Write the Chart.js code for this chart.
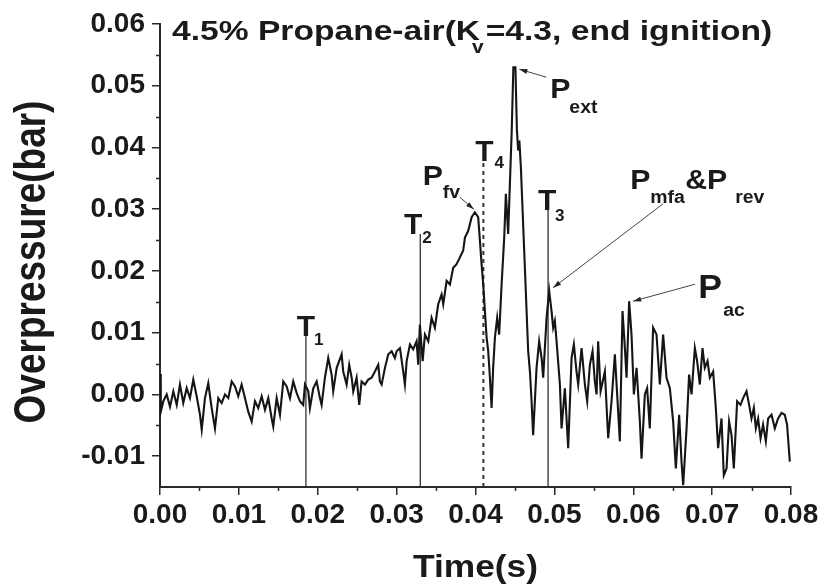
<!DOCTYPE html>
<html>
<head>
<meta charset="utf-8">
<title>Propane-air overpressure</title>
<script src="https://cdn.jsdelivr.net/npm/chart.js@4.4.1/dist/chart.umd.min.js"></script>
<style>
  html, body { margin: 0; padding: 0; background: #fff; }
</style>
</head>
<body>
<canvas id="chart" width="820" height="588"></canvas>
<script>
// Pressure trace: time (s) and overpressure (bar)
const timeS = [
  0, 0.0001, 0.00042, 0.00085, 0.00127, 0.00169, 0.00212, 0.00253, 0.00295, 0.00338,
  0.0038, 0.00422, 0.00465, 0.00507, 0.00529, 0.0057, 0.00612, 0.00655, 0.00697, 0.00739,
  0.00782, 0.00824, 0.00866, 0.00909, 0.00951, 0.00992, 0.01035, 0.01077, 0.01119, 0.01162,
  0.01204, 0.01246, 0.01289, 0.01331, 0.01373, 0.01416, 0.01436, 0.01479, 0.01521, 0.01563,
  0.01606, 0.01648, 0.01689, 0.01733, 0.01774, 0.01816, 0.01838, 0.0188, 0.01901, 0.01943,
  0.01986, 0.02028, 0.02049, 0.02091, 0.02133, 0.02176, 0.02196, 0.0224, 0.02303, 0.02323,
  0.02366, 0.02399, 0.0243, 0.0245, 0.02493, 0.02526, 0.02556, 0.02598, 0.0264, 0.02683,
  0.02725, 0.02767, 0.02788, 0.0281, 0.02852, 0.02894, 0.02937, 0.02978, 0.03, 0.03042,
  0.03084, 0.03105, 0.03127, 0.03169, 0.0321, 0.03253, 0.03274, 0.03295, 0.0333, 0.03359,
  0.03401, 0.03443, 0.03485, 0.03527, 0.0357, 0.03591, 0.03634, 0.03676, 0.03717, 0.0376,
  0.03802, 0.03844, 0.03866, 0.03908, 0.03951, 0.03992, 0.04034, 0.04056, 0.04077, 0.04098,
  0.04119, 0.04141, 0.04161, 0.04183, 0.04204, 0.04224, 0.04246, 0.04275, 0.043, 0.04331,
  0.04364, 0.04385, 0.04414, 0.04458, 0.0448, 0.04506, 0.04525, 0.04541, 0.04556, 0.04575,
  0.04668, 0.0469, 0.04711, 0.04731, 0.04774, 0.04807, 0.04838, 0.04858, 0.04901, 0.04934,
  0.04964, 0.04985, 0.05006, 0.05028, 0.0507, 0.05091, 0.05133, 0.05175, 0.05218, 0.05247,
  0.05281, 0.05302, 0.05345, 0.05387, 0.05416, 0.0545, 0.05484, 0.05513, 0.05535, 0.05555,
  0.05586, 0.0564, 0.05682, 0.05725, 0.05767, 0.05796, 0.0583, 0.05864, 0.05894, 0.05915,
  0.05948, 0.05978, 0.06008, 0.06042, 0.06084, 0.06105, 0.06147, 0.06176, 0.0621, 0.06252,
  0.06295, 0.06337, 0.06379, 0.06422, 0.06464, 0.06506, 0.0654, 0.06582, 0.06612, 0.06633,
  0.06676, 0.06708, 0.06739, 0.06781, 0.0681, 0.06844, 0.06878, 0.06907, 0.06942, 0.06971,
  0.07013, 0.07047, 0.07076, 0.07119, 0.07148, 0.07183, 0.07215, 0.07246, 0.07275, 0.07317,
  0.0736, 0.07393, 0.07436, 0.07469, 0.07499, 0.07529, 0.07554, 0.07583, 0.07614, 0.07646,
  0.07681, 0.0771, 0.07753, 0.07795, 0.07836, 0.0788, 0.07921, 0.0795, 0.07985
];
const overpressure = [
  0.0033, -0.0028, -0.0011, 0.0000, -0.0020, 0.0005, -0.0017, 0.0016, -0.0014, 0.0010,
  -0.0006, 0.0024, -0.0003, -0.0033, -0.0057, -0.0006, 0.0018, -0.0022, -0.0055, -0.0006,
  -0.0014, 0.0000, -0.0006, 0.0021, 0.0013, -0.0003, 0.0016, -0.0006, -0.0028, -0.0044,
  -0.0011, -0.0022, -0.0003, -0.0025, -0.0006, -0.0039, -0.0052, -0.0006, -0.0033, 0.0021,
  0.0013, -0.0006, 0.0021, 0.0002, -0.0011, -0.0017, 0.0016, 0.0005, -0.0022, 0.0010,
  0.0021, -0.0006, -0.0017, 0.0027, 0.0059, 0.0032, 0.0005, 0.0043, 0.0065, 0.0037,
  0.0016, 0.0048, 0.0027, 0.0005, 0.0027, -0.0017, 0.0021, 0.0016, 0.0024, 0.0027,
  0.0037, 0.0048, 0.0021, 0.0016, 0.0043, 0.0065, 0.0070, 0.0059, 0.0070, 0.0075,
  0.0037, 0.0016, 0.0054, 0.0081, 0.0073, 0.0086, 0.0048, 0.0113, 0.0054, 0.0097,
  0.0086, 0.0124, 0.0108, 0.0146, 0.0162, 0.0146, 0.0184, 0.0178, 0.0205, 0.0211,
  0.0222, 0.0233, 0.0254, 0.0265, 0.0287, 0.0295, 0.0287, 0.0249, 0.0211, 0.0178,
  0.0135, 0.0092, 0.0070, 0.0027, -0.0022, 0.0043, 0.0092, 0.0124, 0.0097, 0.0178,
  0.0254, 0.0325, 0.0260, 0.0422, 0.0530, 0.0530, 0.0428, 0.0395, 0.0411, 0.0369,
  0.0070, 0.0037, -0.0011, -0.0066, 0.0043, 0.0086, 0.0059, 0.0027, 0.0124, 0.0168,
  0.0135, 0.0108, 0.0119, 0.0086, 0.0016, -0.0055, 0.0010, -0.0087, 0.0059, 0.0081,
  0.0037, 0.0016, 0.0075, 0.0016, -0.0011, 0.0048, 0.0070, 0.0021, 0.0000, 0.0086,
  0.0005, 0.0037, -0.0071, -0.0011, 0.0065, 0.0000, -0.0076, 0.0135, 0.0075, 0.0027,
  0.0151, 0.0097, 0.0000, 0.0043, -0.0044, -0.0104, 0.0000, 0.0010, -0.0055, 0.0108,
  0.0097, 0.0016, 0.0097, 0.0027, 0.0010, -0.0044, -0.0120, -0.0033, -0.0109, -0.0147,
  -0.0055, 0.0032, 0.0000, 0.0075, 0.0054, 0.0016, 0.0075, 0.0043, 0.0054, 0.0027,
  0.0037, -0.0022, -0.0087, -0.0039, -0.0131, -0.0120, -0.0044, -0.0066, -0.0120, -0.0011,
  -0.0017, -0.0006, 0.0005, -0.0017, -0.0039, -0.0022, -0.0055, -0.0039, -0.0071, -0.0049,
  -0.0076, -0.0039, -0.0033, -0.0055, -0.0039, -0.0030, -0.0033, -0.0049, -0.0109
];

// T markers (vertical lines up from the time axis)
const markerNames = ['1', '2', '4', '3'];
const markerTimes = [0.0185, 0.033, 0.041, 0.0492];
const markerTops = [0.0100, 0.026, 0.038, 0.030];

// named pressure peaks, picked out of the trace by time
const peakNames = ['fv', 'ext', 'mfa', 'ac'];
const peakTimes = [0.03992, 0.0448, 0.04934, 0.05948];

const xTicks = [0, 0.01, 0.02, 0.03, 0.04, 0.05, 0.06, 0.07, 0.08];
const yTicks = [-0.01, 0, 0.01, 0.02, 0.03, 0.04, 0.05, 0.06];
const xMinor = [0.005, 0.015, 0.025, 0.035, 0.045, 0.055, 0.065, 0.075];
const yMinor = [-0.005, 0.005, 0.015, 0.025, 0.035, 0.045, 0.055];

const FONT = '"Liberation Sans", Arial, Helvetica, sans-serif';
const INK = '#1a1a1a';
const AXIS = '#2a2a2a';

// label placement for the T markers, px relative to the line top
const markerLayout = {
  '1': { dx: 0, by: 3, sx: 8, sby: 12 },
  '2': { dx: -7, by: 0, sx: 2, sby: 9 },
  '4': { dx: 1, by: 1, sx: 11, sby: 8 },
  '3': { dx: -1, by: 1, sx: 7, sby: 12 }
};

// label placement for the peaks, px relative to the peak point
const peakLayout = {
  fv:  { size: 28, parts: [['P', -52, -27, 0], ['fv', -32, -14, 1]], from: [-15, -15], to: [-1, -3] },
  ext: { size: 28, parts: [['P', 37, 31, 0], ['ext', 56, 46, 1]], from: [33, 10], to: [6, 2] },
  mfa: { size: 28, parts: [['P', 81, -102, 0], ['mfa', 101, -88, 1], ['&P', 136, -102, 0], ['rev', 186, -88, 1]], from: [114, -87], to: [4, -3] },
  ac:  { size: 33, parts: [['P', 69, -3, 0], ['ac', 94, 15, 1]], from: [66, -17], to: [4, 0] }
};

function nearestIndex(t) {
  let best = 0;
  timeS.forEach((v, i) => { if (Math.abs(v - t) < Math.abs(timeS[best] - t)) best = i; });
  return best;
}

// bold text with a horizontal stretch, returns drawn width
function drawText(ctx, str, x, y, size, sx) {
  ctx.save();
  ctx.font = 'bold ' + size + 'px ' + FONT;
  ctx.fillStyle = INK;
  ctx.textAlign = 'left';
  ctx.textBaseline = 'alphabetic';
  ctx.translate(x, y);
  ctx.scale(sx, 1);
  ctx.fillText(str, 0, 0);
  const w = ctx.measureText(str).width * sx;
  ctx.restore();
  return w;
}

function drawArrow(ctx, x0, y0, x1, y1) {
  const a = Math.atan2(y1 - y0, x1 - x0);
  ctx.save();
  ctx.strokeStyle = '#444';
  ctx.fillStyle = '#222';
  ctx.lineWidth = 1;
  ctx.beginPath();
  ctx.moveTo(x0, y0);
  ctx.lineTo(x1, y1);
  ctx.stroke();
  ctx.beginPath();
  ctx.moveTo(x1, y1);
  ctx.lineTo(x1 - 8 * Math.cos(a) + 2.5 * Math.sin(a), y1 - 8 * Math.sin(a) - 2.5 * Math.cos(a));
  ctx.lineTo(x1 - 8 * Math.cos(a) - 2.5 * Math.sin(a), y1 - 8 * Math.sin(a) + 2.5 * Math.cos(a));
  ctx.closePath();
  ctx.fill();
  ctx.restore();
}

const overlay = {
  id: 'overlay',
  afterDraw(chart) {
    const ctx = chart.ctx;
    const xs = chart.scales.x;
    const ys = chart.scales.y;
    const area = chart.chartArea;

    // minor ticks
    ctx.save();
    ctx.strokeStyle = AXIS;
    ctx.lineWidth = 1.5;
    ctx.beginPath();
    xMinor.forEach(v => {
      const px = Math.round(xs.getPixelForValue(v)) + 0.5;
      ctx.moveTo(px, area.bottom);
      ctx.lineTo(px, area.bottom + 4);
    });
    yMinor.forEach(v => {
      const py = Math.round(ys.getPixelForValue(v)) + 0.5;
      ctx.moveTo(area.left, py);
      ctx.lineTo(area.left - 4, py);
    });
    ctx.stroke();
    ctx.restore();

    // T marker labels
    markerNames.forEach((name, i) => {
      const lx = xs.getPixelForValue(markerTimes[i]);
      const ty = ys.getPixelForValue(markerTops[i]);
      const L = markerLayout[name];
      ctx.save();
      ctx.font = 'bold 30px ' + FONT;
      const tw = ctx.measureText('T').width;
      ctx.restore();
      drawText(ctx, 'T', lx + L.dx - tw / 2, ty + L.by, 30, 1);
      drawText(ctx, name, lx + L.sx, ty + L.sby, 17, 1);
    });

    // peak labels with leader arrows
    peakNames.forEach((name, i) => {
      const k = nearestIndex(peakTimes[i]);
      const px = xs.getPixelForValue(timeS[k]);
      const py = ys.getPixelForValue(overpressure[k]);
      const L = peakLayout[name];
      L.parts.forEach(([str, dx, dy, sub]) => {
        drawText(ctx, str, px + dx, py + dy, sub ? 18 : L.size, 1.08);
      });
      drawArrow(ctx, px + L.from[0], py + L.from[1], px + L.to[0], py + L.to[1]);
    });

    // title inside the plot
    let cx = 172;
    cx += drawText(ctx, '4.5% Propane-air(K', cx, 40, 28, 1.2);
    const vw = drawText(ctx, 'v', cx - 8, 53, 19, 1.1);
    drawText(ctx, '=4.3, end ignition)', cx - 8 + vw + 2, 40, 28, 1.2);

    // axis titles
    ctx.save();
    ctx.font = 'bold 31px ' + FONT;
    ctx.fillStyle = INK;
    ctx.textAlign = 'center';
    ctx.translate((area.left + area.right) / 2, 577);
    ctx.scale(1.14, 1);
    ctx.fillText('Time(s)', 0, 0);
    ctx.restore();

    ctx.save();
    ctx.font = 'bold 37px ' + FONT;
    ctx.fillStyle = INK;
    ctx.textAlign = 'center';
    ctx.translate(45, 262);
    ctx.rotate(-Math.PI / 2);
    ctx.scale(1, 1.18);
    ctx.fillText('Overpressure(bar)', 0, 0);
    ctx.restore();
  }
};

const traceData = timeS.map((t, i) => ({ x: t, y: overpressure[i] }));

const markerSets = markerNames.map((name, i) => ({
  label: 'T' + name,
  data: [{ x: markerTimes[i], y: -0.015 }, { x: markerTimes[i], y: markerTops[i] }],
  borderColor: '#333',
  borderWidth: name === '4' ? 2 : 1.3,
  borderDash: name === '4' ? [4, 4] : [],
  pointRadius: 0,
  fill: false
}));

const tickFont = { family: FONT, size: 28, weight: 'bold' };

new Chart(document.getElementById('chart'), {
  type: 'line',
  data: {
    datasets: [{
      label: 'Overpressure',
      data: traceData,
      borderColor: '#151515',
      borderWidth: 2.1,
      pointRadius: 0,
      tension: 0,
      fill: false
    }].concat(markerSets)
  },
  options: {
    responsive: false,
    animation: false,
    layout: { padding: { top: 24, right: 29, left: 0, bottom: 0 } },
    plugins: {
      legend: { display: false },
      tooltip: { enabled: false }
    },
    scales: {
      x: {
        type: 'linear',
        min: 0,
        max: 0.08,
        afterBuildTicks: s => { s.ticks = xTicks.map(v => ({ value: v })); },
        afterFit: s => { s.height = 101; s.paddingLeft = 0; s.paddingRight = 0; },
        ticks: {
          callback: v => v.toFixed(2),
          font: tickFont,
          color: INK,
          padding: 3,
          maxRotation: 0,
          autoSkip: false
        },
        grid: { drawOnChartArea: false, drawTicks: true, tickLength: 8, color: AXIS, lineWidth: 1.5 },
        border: { display: true, color: AXIS, width: 2 }
      },
      y: {
        type: 'linear',
        min: -0.015,
        max: 0.06,
        afterBuildTicks: s => { s.ticks = yTicks.map(v => ({ value: v })); },
        afterFit: s => { s.width = 160; s.paddingTop = 0; s.paddingBottom = 0; },
        ticks: {
          callback: v => v.toFixed(2),
          font: tickFont,
          color: INK,
          padding: 7,
          autoSkip: false
        },
        grid: { drawOnChartArea: false, drawTicks: true, tickLength: 8, color: AXIS, lineWidth: 1.5 },
        border: { display: true, color: AXIS, width: 2 }
      }
    }
  },
  plugins: [overlay]
});
</script>
</body>
</html>
